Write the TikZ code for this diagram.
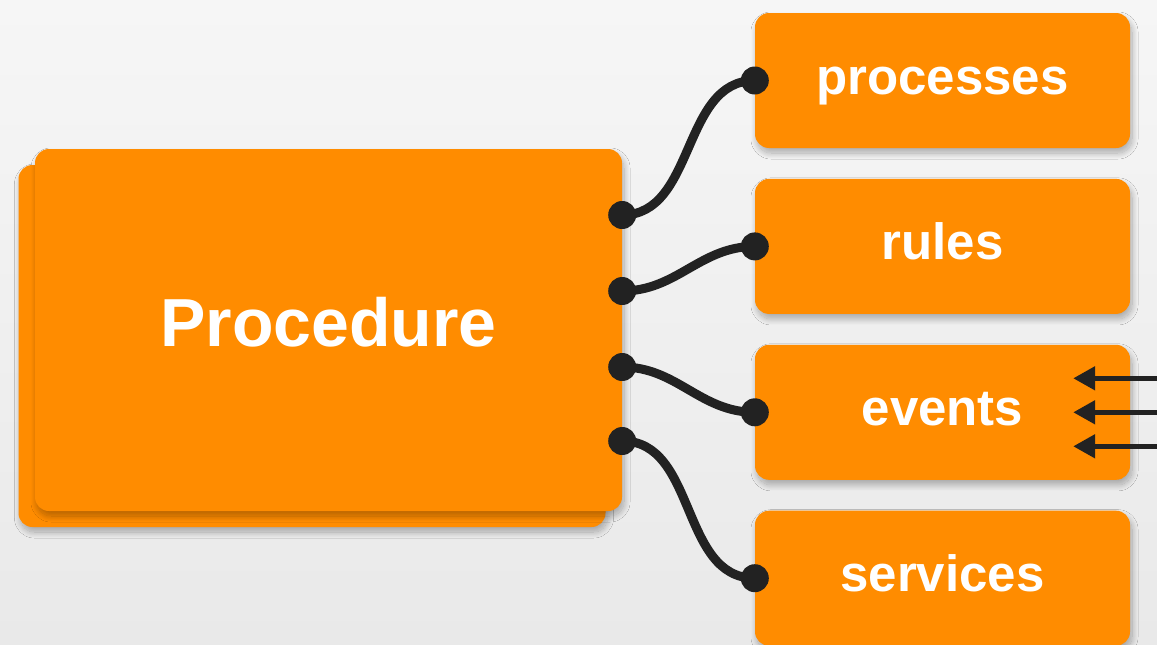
\documentclass[tikz,border=0pt]{standalone}
\usepackage{fontspec}
\setmainfont{Liberation Sans}
\usetikzlibrary{positioning,arrows.meta,shadows.blur}
\definecolor{boxorange}{HTML}{FF8C00}
\definecolor{wirecol}{HTML}{222222}
\definecolor{bgtop}{HTML}{F6F6F6}
\definecolor{bgbot}{HTML}{E9E9E9}

\begin{document}
\begin{tikzpicture}[x=1pt,y=-1pt,
    box/.style={fill=boxorange, rounded corners=14pt, inner sep=0pt,
        minimum width=375pt, minimum height=135pt, text=white,
        font=\fontsize{51}{60}\selectfont\bfseries, text height=27pt, text depth=0pt,
        blur shadow={shadow xshift=2pt, shadow yshift=-5pt, shadow blur radius=6pt,
            shadow blur steps=20, shadow opacity=30}},
    bigbox/.style={box, minimum width=587pt, minimum height=362pt,
        font=\fontsize{68}{80}\selectfont\bfseries, text height=49pt, text depth=16pt},
    wire/.style={line width=9pt, wirecol},
    feed/.style={line width=5pt, wirecol, -{Triangle[length=22pt,width=23pt]}}]

    \useasboundingbox (0,0) rectangle (1157,645);
    \shade[top color=bgtop, bottom color=bgbot] (0,0) rectangle (1157,645);

    % procedure, with a second sheet behind it
    \node[bigbox] (procback) at (312,346) {};
    \node[bigbox] (proc) at (328.5,330) {Procedure};

    \node[box] (processes) at (942.5,80.5) {processes};
    \node[box] (rules) [below=30.5pt of processes] {rules};
    \node[box] (events) [below=30.5pt of rules] {events};
    \node[box] (services) [below=30.5pt of events] {services};

    \coordinate (o1) at ([yshift=115pt]proc.east);
    \coordinate (o2) at ([yshift=39pt]proc.east);
    \coordinate (o3) at ([yshift=-37pt]proc.east);
    \coordinate (o4) at ([yshift=-111pt]proc.east);

    \foreach \a/\b in {o1/processes,o2/rules,o3/events,o4/services} {
        \draw[wire] (\a) to[out=0,in=180] (\b.west);
        \fill[wirecol] (\a) circle (14pt) (\b.west) circle (14pt);
    }

    % incoming events
    \foreach \i/\d in {1/34,2/0,3/-34} {
        \coordinate (src\i) at ([xshift=30pt,yshift=\d pt]events.east);
        \coordinate (tip\i) at ([xshift=-57pt,yshift=\d pt]events.east);
        \draw[feed] (src\i) -- (tip\i);
    }
\end{tikzpicture}
\end{document}
